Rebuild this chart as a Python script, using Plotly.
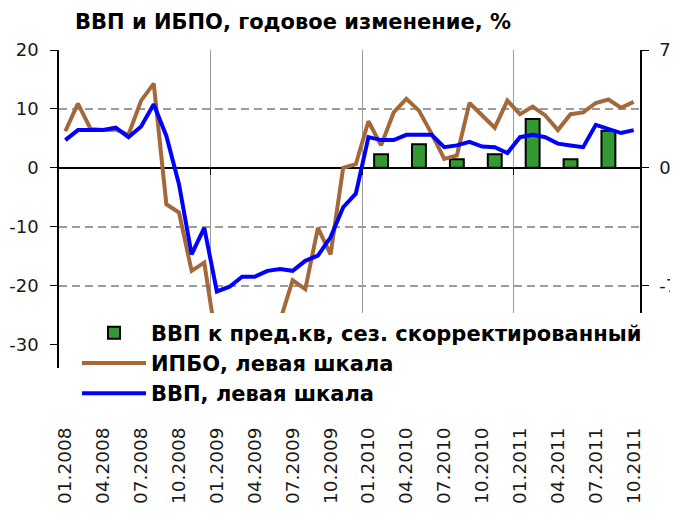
import plotly.graph_objects as go

# ---- data ----
months = [
    "01.2008", "02.2008", "03.2008", "04.2008", "05.2008", "06.2008",
    "07.2008", "08.2008", "09.2008", "10.2008", "11.2008", "12.2008",
    "01.2009", "02.2009", "03.2009", "04.2009", "05.2009", "06.2009",
    "07.2009", "08.2009", "09.2009", "10.2009", "11.2009", "12.2009",
    "01.2010", "02.2010", "03.2010", "04.2010", "05.2010", "06.2010",
    "07.2010", "08.2010", "09.2010", "10.2010", "11.2010", "12.2010",
    "01.2011", "02.2011", "03.2011", "04.2011", "05.2011", "06.2011",
    "07.2011", "08.2011", "09.2011", "10.2011",
]
tick_labels = [
    "01.2008", "04.2008", "07.2008", "10.2008",
    "01.2009", "04.2009", "07.2009", "10.2009",
    "01.2010", "04.2010", "07.2010", "10.2010",
    "01.2011", "04.2011", "07.2011", "10.2011",
]
year_starts = ["01.2009", "01.2010", "01.2011"]

left_ticks = [-30, -20, -10, 0, 10, 20]
left_tick_text = ["-30", "-20", "-10", "0", "10", "20"]
left_grid = [-20, -10, 10, 20]
right_ticks = [-7, 0, 7]
right_tick_text = ["-7", "0", "7"]

ibpo = [6.2, 10.9, 6.6, 6.4, 6.5, 5.6, 11.4, 14.3, -6.2, -7.6,
        -17.5, -16.1, -30.0, -32.0, -31.0, -29.0, -28.0, -26.0, -19.1, -20.6,
        -10.2, -14.7, 0.0, 0.6, 7.9, 3.8, 9.4, 11.7, 9.7, 5.8,
        1.5, 2.1, 11.0, 8.9, 6.8, 11.4, 9.1, 10.4, 8.9, 6.4,
        9.1, 9.4, 11.0, 11.6, 10.2, 11.2]

gdp_yoy = [4.7, 6.4, 6.4, 6.4, 6.8, 5.2, 7.0, 10.8, 5.4, -2.8,
           -14.7, -10.2, -21.0, -20.2, -18.5, -18.5, -17.5, -17.2, -17.5, -15.8,
           -14.9, -11.8, -6.7, -4.4, 5.2, 4.7, 4.7, 5.6, 5.6, 5.6,
           3.5, 3.8, 4.4, 3.6, 3.5, 2.5, 5.2, 5.6, 5.2, 4.1,
           3.8, 3.5, 7.3, 6.6, 5.9, 6.4]

bar_months = ["02.2010", "05.2010", "08.2010", "11.2010", "02.2011", "05.2011", "08.2011"]
gdp_qoq = [0.8, 1.4, 0.5, 0.8, 2.9, 0.5, 2.2]

# ---- mapping to positions on a numeric category scale ----
idx = list(range(len(months)))
bar_x = [months.index(m) for m in bar_months]
tick_x = [months.index(m) for m in tick_labels]
grid_x = [months.index(m) - 0.5 for m in year_starts]

LEFT_RANGE = [-34, 20]
RIGHT_RANGE = [-11.9, 7]
zero_pos = -LEFT_RANGE[0] / (LEFT_RANGE[1] - LEFT_RANGE[0])

FONT = "DejaVu Sans"
TXT = "#1a1a1a"
GRID = "#9c9c9c"

# the page body adds an 8px margin, so the figure is sized to the visible area
W, H = 670, 505

fig = go.Figure()
fig.add_trace(go.Bar(
    x=bar_x, y=gdp_qoq, yaxis="y", width=1.1,
    name="ВВП к пред.кв, сез. скорректированный", legendgroup="a",
    marker=dict(color="#339933", line=dict(color="black", width=2)),
))
fig.add_trace(go.Scatter(
    x=idx, y=ibpo, yaxis="y2", mode="lines",
    name="ИПБО, левая шкала", legendgroup="b",
    line=dict(color="#A3693A", width=4),
))
fig.add_trace(go.Scatter(
    x=idx, y=gdp_yoy, yaxis="y2", mode="lines",
    name="ВВП, левая шкала", legendgroup="c",
    line=dict(color="#0000FF", width=4),
))

fig.update_layout(
    width=W, height=H,
    margin=dict(l=51, r=38, t=42, b=145, autoexpand=False),
    paper_bgcolor="white", plot_bgcolor="white",
    font=dict(family=FONT, color=TXT),
    showlegend=True,
    title=dict(
        text="<b>ВВП и ИБПО, годовое изменение, %</b>",
        font=dict(family=FONT, size=21, color="black"),
        xref="container", yref="container",
        x=67 / W, xanchor="left", y=1 - 14 / H, yanchor="middle",
        automargin=False,
    ),
    xaxis=dict(
        range=[-0.5, len(months) - 0.5], automargin=False,
        anchor="free", position=zero_pos,
        tickmode="array", tickvals=tick_x, ticktext=tick_labels,
        tickangle=-90, ticks="", showgrid=False, zeroline=False, showline=False,
        ticklabelstandoff=255,
        tickfont=dict(family=FONT, size=18.5, color=TXT),
        minor=dict(tickmode="array", tickvals=grid_x, showgrid=True,
                   gridcolor=GRID, gridwidth=1,
                   ticks="outside", ticklen=6, tickcolor="black", tickwidth=1),
    ),
    yaxis=dict(
        side="right", range=RIGHT_RANGE, automargin=False,
        tickmode="array", tickvals=right_ticks, ticktext=right_tick_text,
        ticks="outside", ticklen=7, tickcolor="black", tickwidth=1,
        showline=True, linecolor="black", linewidth=1.5,
        showgrid=False, zeroline=False,
        tickfont=dict(family=FONT, size=18, color=TXT),
        ticklabelstandoff=7,
    ),
    yaxis2=dict(
        overlaying="y", side="left", range=LEFT_RANGE, automargin=False,
        tickmode="array", tickvals=left_ticks, ticktext=left_tick_text,
        ticks="outside", ticklen=7, tickcolor="black", tickwidth=1,
        showline=True, linecolor="black", linewidth=1.5,
        showgrid=False,
        minor=dict(tickmode="array", tickvals=left_grid, showgrid=True,
                   gridcolor=GRID, gridwidth=1.5, griddash="8px,5px", ticks=""),
        zeroline=True, zerolinecolor="black", zerolinewidth=1.5,
        tickfont=dict(family=FONT, size=18, color=TXT),
        ticklabelstandoff=8,
    ),
    legend=dict(
        x=18 / 581, y=0.1745, xanchor="left", yanchor="top",
        bgcolor="white", borderwidth=0,
        font=dict(family=FONT, size=21, color="black", weight="bold"),
        tracegroupgap=0, itemwidth=64,
    ),
)

fig.write_html("out.html")
